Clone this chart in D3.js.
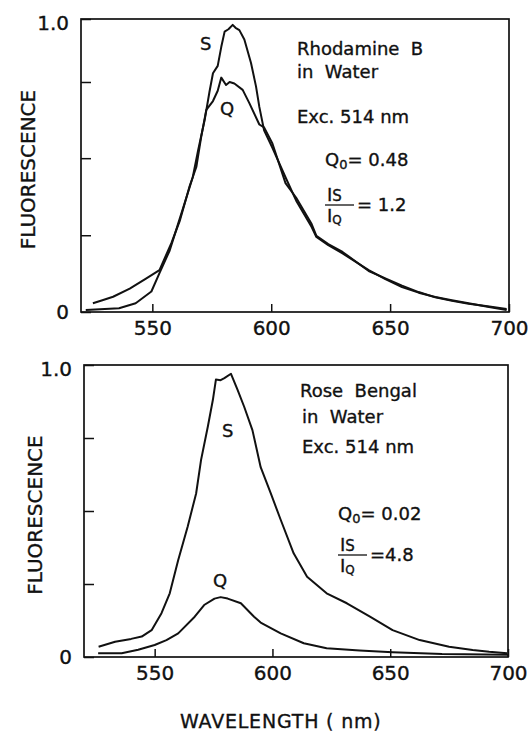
<!DOCTYPE html>
<html>
<head>
<meta charset="utf-8">
<script src="https://cdn.jsdelivr.net/npm/d3@7"></script>
<style>
  body { margin: 0; background: #fff; }
  svg { display: block; }
  text { font-family: "DejaVu Sans", sans-serif; fill: #111; stroke: #111; stroke-width: 0.35px; }
  .curve { fill: none; stroke: #111; stroke-width: 2; stroke-linejoin: round; }
  .frame { fill: none; stroke: #111; stroke-width: 1.7; }
  .axis path { display: none; }
  .axis line { stroke: #111; stroke-width: 1.5; }
  .axis text { font-size: 20px; }
</style>
</head>
<body>
<svg id="chart" width="529" height="735"></svg>
<script>
// wavelength range and ticks
const xDomain = [520, 700];
const xTickValues = [550, 600, 650, 700];
const yTicksTop = [0, 0.262, 0.525, 0.785, 1];
const yTicksBottom = [0, 0.25, 0.5, 0.75, 1];

// Rhodamine B in water: [wavelength nm, fluorescence]
const rhodamineS = [
    [522, 0.007], [530, 0.01], [536, 0.013], [543, 0.03], [549.6, 0.07], [553, 0.133],
    [557.3, 0.21], [560.8, 0.30], [564.3, 0.39], [567, 0.46], [569.2, 0.55], [572, 0.655],
    [574, 0.75], [575.5, 0.815], [577.5, 0.84], [579, 0.905], [580.4, 0.957], [582, 0.965],
    [583.8, 0.98], [585, 0.97], [586.6, 0.962], [588.7, 0.93], [591.5, 0.85], [593.6, 0.77],
    [595, 0.70], [597, 0.62], [600.5, 0.56], [606, 0.46], [610.5, 0.38], [617, 0.29],
    [619, 0.256], [624, 0.228], [630, 0.20], [641, 0.143], [648, 0.112], [655, 0.085],
    [662, 0.066], [669, 0.051], [676, 0.04], [683, 0.03], [691, 0.018], [699, 0.007]
];
const rhodamineQ = [
    [525, 0.03], [529, 0.04], [533.5, 0.052], [540.5, 0.08], [547.5, 0.115], [553, 0.143],
    [558, 0.235], [561.5, 0.31], [565.7, 0.43], [568.5, 0.495], [570.6, 0.60], [572.7, 0.69],
    [575.5, 0.72], [577.5, 0.755], [579, 0.80], [581, 0.775], [582.5, 0.785], [584.5, 0.78],
    [588, 0.758], [590.8, 0.713], [595, 0.64], [597, 0.63], [600.5, 0.575], [606, 0.44],
    [610.5, 0.39], [617, 0.30], [619, 0.26], [624, 0.232], [630, 0.205], [641, 0.14],
    [648, 0.115], [655, 0.09], [662, 0.068], [669, 0.05], [676, 0.038], [683, 0.028],
    [691, 0.02], [699, 0.01]
];

// Rose Bengal in water
const roseS = [
    [526.2, 0.035], [533.2, 0.052], [540, 0.062], [544.5, 0.07], [548.7, 0.092], [552.9, 0.15],
    [556.4, 0.218], [560, 0.332], [564, 0.446], [567.6, 0.56], [569.7, 0.675], [572.6, 0.79],
    [574.7, 0.88], [576, 0.95], [578, 0.948], [579.6, 0.955], [582.4, 0.97], [585.2, 0.915],
    [588, 0.857], [591.5, 0.777], [595, 0.65], [599.3, 0.56], [603.5, 0.47], [609, 0.355],
    [614.7, 0.275], [623, 0.218], [631.6, 0.184], [641.4, 0.138], [651, 0.092], [662.5, 0.058],
    [675, 0.035], [685, 0.024], [692, 0.018], [699.6, 0.013]
];
const roseQ = [
    [526, 0.013], [536, 0.013], [543, 0.025], [550, 0.041], [555, 0.058], [560, 0.081],
    [567, 0.138], [571, 0.178], [575.4, 0.20], [578, 0.205], [581, 0.20], [586.6, 0.184],
    [592.2, 0.138], [595, 0.118], [603.5, 0.081], [613.3, 0.047], [623, 0.03], [637, 0.022],
    [651, 0.016], [672, 0.01], [700, 0.008]
];

const panels = [
    {
        box: { left: 81, right: 509, top: 19, bottom: 312 },
        yTicks: yTicksTop,
        series: [rhodamineS, rhodamineQ],
        ylabelX: 28,
        lines: [
            { x: 297, y: 55, t: 'Rhodamine  B' },
            { x: 297, y: 78, t: 'in  Water' },
            { x: 297, y: 123, t: 'Exc. 514 nm' }
        ],
        q0: { x: 325, y: 166, t: '= 0.48' },
        ratio: { x: 325, y: 205, t: '= 1.2' },
        s: { x: 200, y: 50 }, q: { x: 220, y: 115 }
    },
    {
        box: { left: 84, right: 508, top: 365, bottom: 657 },
        yTicks: yTicksBottom,
        series: [roseS, roseQ],
        ylabelX: 35,
        lines: [
            { x: 300, y: 397, t: 'Rose  Bengal' },
            { x: 302, y: 423, t: 'in  Water' },
            { x: 302, y: 453, t: 'Exc. 514 nm' }
        ],
        q0: { x: 338, y: 520, t: '= 0.02' },
        ratio: { x: 338, y: 555, t: '=4.8' },
        s: { x: 222, y: 437 }, q: { x: 213, y: 587 }
    }
];

const svg = d3.select('#chart');

panels.forEach(p => {
    const w = p.box.right - p.box.left;
    const h = p.box.bottom - p.box.top;
    const g = svg.append('g')
        .attr('transform', `translate(${p.box.left},${p.box.top})`);

    const x = d3.scaleLinear().domain(xDomain).range([0, w]);
    const y = d3.scaleLinear().domain([0, 1]).range([h, 0]);

    g.append('g')
        .attr('class', 'axis')
        .attr('transform', `translate(0,${h})`)
        .call(d3.axisBottom(x).tickValues(xTickValues).tickSize(-8).tickPadding(9).tickFormat(d3.format('d')));

    g.append('g')
        .attr('class', 'axis')
        .call(d3.axisLeft(y).tickValues(p.yTicks).tickSize(-10).tickPadding(12)
            .tickFormat(v => v === 0 ? '0' : (v === 1 ? '1.0' : '')))
        .selectAll('text')
        .attr('dy', v => v === 1 ? '0.5em' : '0.3em');

    const line = d3.line()
        .x(d => x(d[0]))
        .y(d => y(d[1]));

    p.series.forEach(s => {
        g.append('path')
            .attr('class', 'curve')
            .attr('d', line(s));
    });

    g.append('rect')
        .attr('class', 'frame')
        .attr('width', w)
        .attr('height', h);

    // y label
    svg.append('text')
        .attr('transform', `translate(${p.ylabelX + 7},${(p.box.top + p.box.bottom) / 2 + 4}) rotate(-90)`)
        .attr('text-anchor', 'middle')
        .style('font-size', '20px')
        .text('FLUORESCENCE');

    // annotations
    p.lines.forEach(l => {
        svg.append('text')
            .attr('x', l.x).attr('y', l.y)
            .style('font-size', '18px')
            .style('white-space', 'pre')
            .text(l.t);
    });

    const q0 = svg.append('text')
        .attr('x', p.q0.x).attr('y', p.q0.y)
        .style('font-size', '18px');
    q0.append('tspan').text('Q');
    q0.append('tspan').attr('dy', 3).style('font-size', '13px').text('0');
    q0.append('tspan').attr('dy', -3).text(p.q0.t);

    const fr = svg.append('g').attr('transform', `translate(${p.ratio.x},${p.ratio.y})`);
    const num = fr.append('text').attr('x', 2).attr('y', -4).style('font-size', '18px');
    num.append('tspan').text('I');
    num.append('tspan').attr('dy', 0).style('font-size', '15px').text('S');
    const den = fr.append('text').attr('x', 2).attr('y', 17).style('font-size', '18px');
    den.append('tspan').text('I');
    den.append('tspan').attr('dy', 2).style('font-size', '12px').text('Q');
    fr.append('line')
        .attr('x1', 0).attr('x2', 29)
        .attr('y1', 0).attr('y2', 0)
        .attr('stroke', '#111').attr('stroke-width', 1.3);
    fr.append('text').attr('x', 32).attr('y', 6).style('font-size', '18px').text(p.ratio.t);

    svg.append('text').attr('x', p.s.x).attr('y', p.s.y).style('font-size', '18px').text('S');
    svg.append('text').attr('x', p.q.x).attr('y', p.q.y).style('font-size', '18px').text('Q');
});

svg.append('text')
    .attr('x', 180).attr('y', 728)
    .style('font-size', '19px')
    .style('letter-spacing', '0.8px')
    .style('white-space', 'pre')
    .text('WAVELENGTH ( nm)');
</script>
</body>
</html>
